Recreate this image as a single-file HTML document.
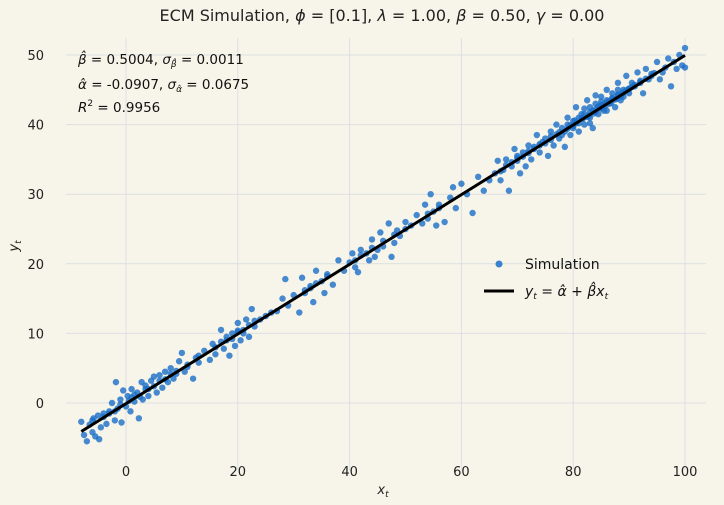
<!DOCTYPE html>
<html><head><meta charset="utf-8">
<style>
html,body{margin:0;padding:0;background:#f7f5e9;}
svg{display:block;font-family:"DejaVu Sans","Liberation Sans",sans-serif;}
</style></head>
<body>
<svg id="chart" width="724" height="505" viewBox="0 0 724 505">
<rect width="724" height="505" fill="#f7f5e9"/>
<g id="grid"></g>
<g id="pts"></g>
<g id="fit"></g>
<g id="ticks" font-size="13" fill="#222"></g>
<text x="382" y="21" text-anchor="middle" font-size="16" fill="#222">ECM Simulation, <tspan font-style="italic">ϕ</tspan> = [0.1], <tspan font-style="italic">λ</tspan> = 1.00, <tspan font-style="italic">β</tspan> = 0.50, <tspan font-style="italic">γ</tspan> = 0.00</text>
<text x="383" y="494" text-anchor="middle" font-size="13" fill="#222"><tspan font-style="italic">x</tspan><tspan font-size="9" dy="3" font-style="italic">t</tspan></text>
<text transform="translate(18,246) rotate(-90)" text-anchor="middle" font-size="13" fill="#222"><tspan font-style="italic">y</tspan><tspan font-size="9" dy="3" font-style="italic">t</tspan></text>
<g font-size="13.5" fill="#111">
<text x="78" y="64"><tspan font-style="italic">β̂</tspan> = 0.5004, <tspan font-style="italic">σ</tspan><tspan font-size="9" dy="3" font-style="italic">β̂</tspan><tspan dy="-3"> = 0.0011</tspan></text>
<text x="78" y="89"><tspan font-style="italic">α̂</tspan> = -0.0907, <tspan font-style="italic">σ</tspan><tspan font-size="9" dy="3" font-style="italic">α̂</tspan><tspan dy="-3"> = 0.0675</tspan></text>
<text x="78" y="112"><tspan font-style="italic">R</tspan><tspan font-size="9" dy="-6">2</tspan><tspan dy="6"> = 0.9956</tspan></text>
</g>
<g>
<circle cx="499" cy="264" r="3.5" fill="rgba(25,110,200,0.85)"/>
<text x="525" y="269" font-size="14" fill="#111">Simulation</text>
<line x1="484" y1="291" x2="514" y2="291" stroke="#000" stroke-width="3"/>
<text x="525" y="296" font-size="14" fill="#111"><tspan font-style="italic">y</tspan><tspan font-size="9" dy="3" font-style="italic">t</tspan><tspan dy="-3"> = </tspan><tspan font-style="italic">α̂</tspan> + <tspan font-style="italic">β̂x</tspan><tspan font-size="9" dy="3" font-style="italic">t</tspan></text>
</g>
</svg>
<script>
const xs=[-8,-7.5,-7,-6.5,-6,-5.8,-5.5,-5,-4.8,-4.5,-4,-3.5,-3,-2.5,-2,-1.8,-1.5,-1,-0.8,-0.5,0,0.3,0.8,1,1.5,2,2.3,2.8,3,3.5,4,4.5,5,5.5,6,6.5,7,7.5,8,8.5,9,9.5,10,10.5,11,12,12.5,13,14,15,15.5,16,17,17.5,18,18.5,19,19.5,20,20.5,21,21.5,22,22.5,23,24,25,26,27,28,28.5,29,30,31,31.5,32,33,33.5,34,35,35.5,36,37,38,39,40,40.5,41,41.5,42,43,43.5,44,44.5,45,45.5,46,47,47.5,48,48.5,49,50,51,52,53,53.5,54,54.5,55,55.5,56,57,58,58.5,59,60,61,62,63,64,65,66,66.5,67,67.5,68,68.5,69,69.5,70,70.5,71,71.5,72,72.5,73,73.5,74,74.5,75,75.5,76,76.5,77,77.5,78,78.5,79,79.5,80,80.5,81,81.5,82,82.5,83,83.5,84,84.5,85,85.5,86,86.5,87,87.5,88,88.5,89,89.5,90,90.5,91,91.5,92,92.5,93,93.5,94,95,95.5,96,97,97.5,98,98.5,99,99.5,100,100,78,79,80,81,82,83,84,85,86,87,88,89,90,84,82,80.5,86,88,83,85,-3,1,4,7,18,20,22,36,50,70,72,74,76,92,94,
-6,-4,-2,-1,0.5,1.5,2.5,3.5,5,6,8,9,11,13,16,17,19,20,21,23,32,33,34,41,42,44,46,48,54,56,67,68,69,71,73,75,77,78.5,79.5,80,81,81.5,82.5,83,83.5,84,84.5,85,85.5,86,86.5,87,87.5,88,88.5,89,89.5,90,90.5,91,92,93,94.5,96.5,79,80.3,81.7,82.8,83.7,84.7,85.8,86.8,87.8,88.8,89.8,77.5,76,74,72,70];
const ys=[-2.7,-4.6,-5.5,-3.1,-4.2,-2.2,-4.8,-1.8,-5.2,-3.5,-2.0,-3.0,-1.2,0,-2.5,3.0,-0.8,0.5,-2.8,1.8,-0.5,1.0,-1.2,2.0,0.2,1.5,-2.2,3.0,0.5,2.5,1.0,3.2,3.8,1.5,4.0,2.2,4.5,3.0,5.0,3.5,4.2,6.0,7.2,4.5,5.5,3.5,6.5,5.8,7.5,6.2,8.5,7.0,10.5,7.8,9.5,6.8,10.0,8.2,11.5,9.0,10.5,12.0,9.5,13.5,11.0,12.0,12.5,13.0,13.2,15.0,17.8,14.0,15.5,13.0,18.0,15.8,16.5,14.5,19.0,17.5,15.8,18.5,17.0,20.5,19.0,20.2,21.5,19.5,18.8,22.0,21.5,20.5,23.5,21.0,22.0,24.5,22.5,25.8,21.0,23.0,24.8,24.0,26.0,25.5,27.0,25.8,28.5,26.5,30.0,27.5,25.5,28.5,26.0,29.5,31.0,28.0,31.5,30.0,27.3,32.5,30.5,32.0,33.0,34.8,32.0,33.5,35.0,30.5,34.0,36.5,35.5,33.0,36.0,34.0,37.0,35.0,36.5,38.5,36.0,37.5,38.0,35.5,39.0,37.0,40.0,38.0,39.5,36.8,41.0,38.5,40.5,42.5,39.0,41.5,40.0,43.5,41.0,39.5,43.0,41.5,44.0,42.0,45.0,43.0,44.5,42.5,46.0,43.5,45.0,47.0,44.5,46.0,45.5,47.5,46.0,44.5,48.0,46.5,47.0,49.0,46.5,47.5,49.5,45.5,49.0,48.0,50.0,48.5,51.0,48.2,38.5,40,39.5,41,41.5,42.5,41.8,42.8,43.5,43.8,44.2,44,45.2,44.2,42.3,40.2,42,45,40.2,43.3,-1.5,0.8,2.0,3.4,9.0,10.2,11.2,18.2,25.0,34.8,36.2,37.2,38.3,46.3,47.3,
-2.5,-1.5,-1.2,-0.2,0.3,1.2,0.9,2.0,2.4,3.2,4.2,4.6,5.2,6.8,8.0,8.8,9.2,10.4,10.0,11.8,16.2,16.8,17.2,20.5,21.2,22.3,23.3,24.2,27.2,28.0,33.3,34.2,34.6,35.4,36.8,37.3,38.6,39.0,39.9,39.8,40.2,40.9,41.1,41.8,42.0,42.2,42.6,42.3,42.9,43.2,43.4,43.8,43.6,44.3,44.0,44.6,44.9,45.1,45.4,45.7,46.1,46.6,47.4,48.2,39.4,40.6,40.8,41.3,41.6,42.4,42.7,43.1,43.7,44.5,45.0,38.9,37.8,37.0,35.9,35.2];
const xTicks=[0,20,40,60,80,100];
const yTicks=[0,10,20,30,40,50];
const alphaHat=-0.0907, betaHat=0.5004;
const fitX=[-8,100];

const X=v=>126+(v-0)*(685-126)/100;
const Y=v=>403-(v-0)*(403-55)/50;
const NS='http://www.w3.org/2000/svg';
function mk(tag,attrs,parent){const e=document.createElementNS(NS,tag);for(const k in attrs)e.setAttribute(k,attrs[k]);parent.appendChild(e);return e;}
const grid=document.getElementById('grid'),ticks=document.getElementById('ticks'),pts=document.getElementById('pts'),fit=document.getElementById('fit');
xTicks.forEach(t=>{
  const l=mk('line',{x1:X(t),x2:X(t),y1:38,y2:470,stroke:'#dcdfe3','stroke-width':1},grid);
  
  
  const tx=mk('text',{x:X(t),y:476,'text-anchor':'middle'},ticks);tx.textContent=t;
  
  
});
yTicks.forEach(t=>{
  const l=mk('line',{x1:66,x2:706,y1:Y(t),y2:Y(t),stroke:'#dcdfe3','stroke-width':1},grid);
  
  
  const tx=mk('text',{x:44,y:Y(t)+5,'text-anchor':'end'},ticks);tx.textContent=t;
  
  
});
xs.forEach((x,i)=>{
  const c=mk('circle',{cx:X(x),cy:Y(ys[i]),r:3.2,fill:'rgba(25,110,200,0.8)'},pts);
  
  
});
const fl=mk('line',{x1:X(fitX[0]),y1:Y(alphaHat+betaHat*fitX[0]),x2:X(fitX[1]),y2:Y(alphaHat+betaHat*fitX[1]),stroke:'#000','stroke-width':3},fit);


</script>
</body></html>
